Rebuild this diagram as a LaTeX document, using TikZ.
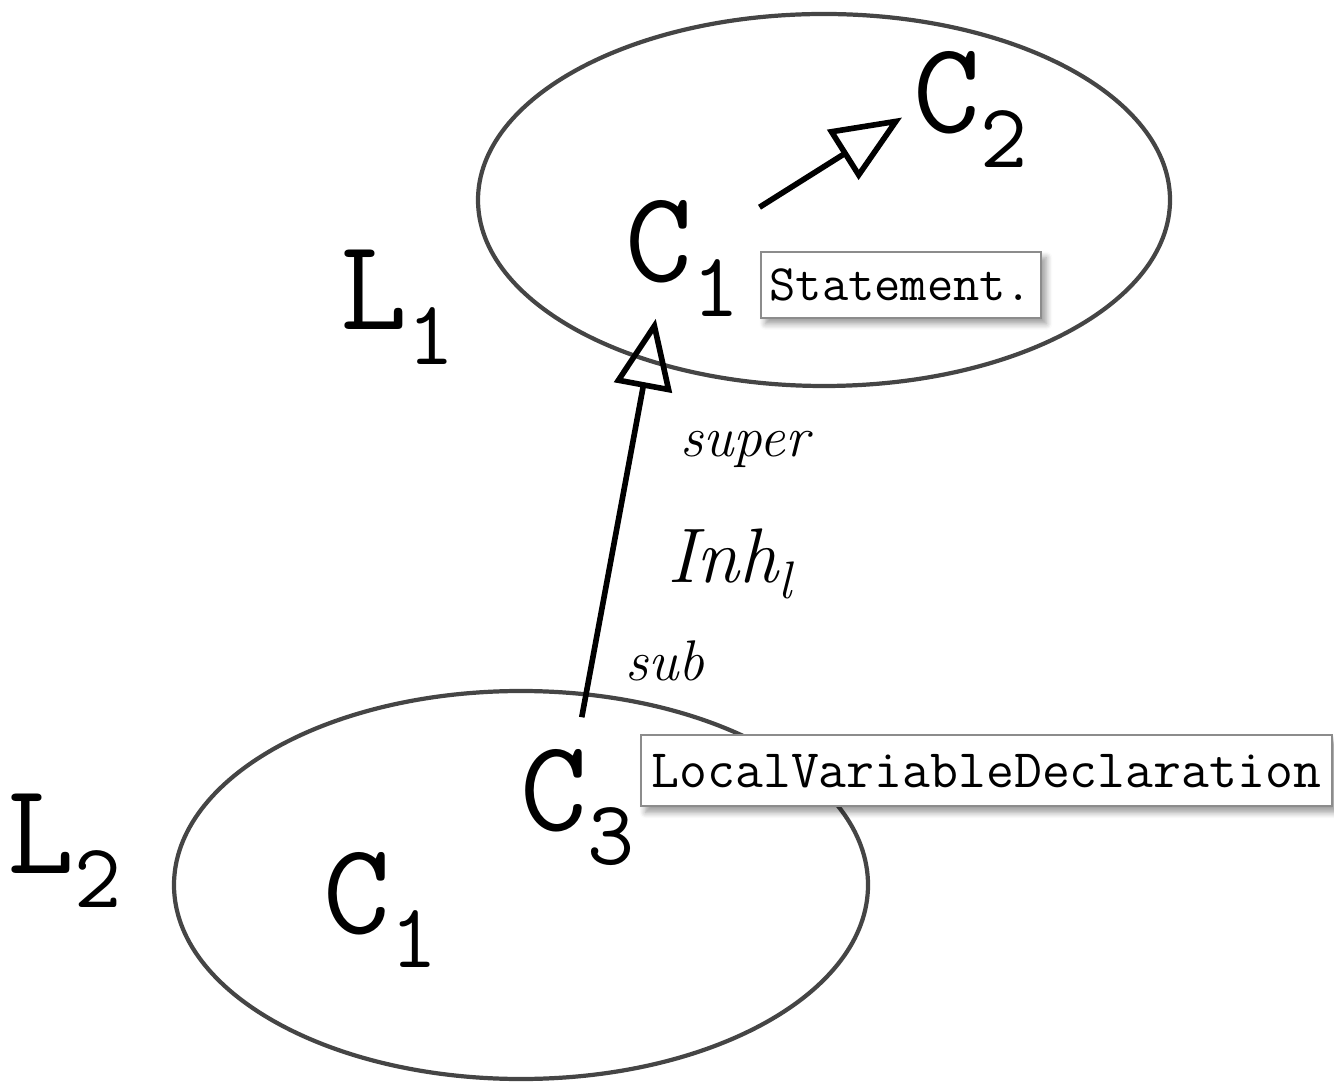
\documentclass[tikz,border=0pt]{standalone}
\usepackage{fontspec}
\usepackage{tikz}
\usetikzlibrary{positioning,arrows.meta,shadows.blur}
\definecolor{SetGray}{HTML}{454545}
\definecolor{TipGray}{HTML}{8C8C8C}
\newcommand{\cname}[2]{\fontsize{37}{40}\selectfont\ttfamily #1\raisebox{-9.7pt}{\fontsize{26}{28}\selectfont #2}}

\begin{document}
\begin{tikzpicture}[x=0.01cm,y=-0.01cm,
    elem/.style={inner sep=0pt,anchor=base west},
    tipbox/.style={draw=TipGray,line width=0.6pt,fill=white,inner xsep=0.09cm,
      minimum height=0.66cm,font=\fontsize{14.5}{16}\selectfont\ttfamily,
      blur shadow={shadow xshift=0.05cm,shadow yshift=-0.06cm,shadow blur steps=6}},
    inharrow/.style={line width=1.6pt,-{Triangle[open,length=0.7cm,width=0.58cm]}},
    role/.style={inner sep=0pt,anchor=base west,font=\fontsize{16.3}{18}\selectfont\itshape}]
    \useasboundingbox (0,0) rectangle (1334,1083);
    \draw[SetGray,line width=1.2pt] (824,200) ellipse [x radius=346,y radius=186];
    \draw[SetGray,line width=1.2pt] (521,885) ellipse [x radius=347,y radius=194];
    \node[elem] (l1) at (340,330) {\cname{L}{1}};
    \node[elem] (l2) at (7,873) {\cname{L}{2}};
    \node[elem] (c1top) at (625,282) {\cname{C}{1}};
    \node[elem] (c2) at (913,133) {\cname{C}{2}};
    \node[elem] (c3) at (520,830) {\cname{C}{3}};
    \node[elem] (c1bot) at (323,933) {\cname{C}{1}};
    \node[tipbox,anchor=south west] (stmt) at ([shift={(19,2)}]c1top.south east) {Statement.};
    \node[tipbox,anchor=north west,inner xsep=0.11cm,minimum height=0.71cm,
      font=\fontsize{15.4}{17}\selectfont\ttfamily] (lvd) at ([shift={(4,-14)}]c3.north east) {LocalVariableDeclaration};
    \draw[inharrow] ([shift={(19,7)}]c1top.north east) -- ([shift={(-11,8)}]c2.west);
    \draw[inharrow] ([shift={(4,-31)}]c3.north) -- ([shift={(-27,2)}]c1top.south);
    \node[role] (super) at (680,457) {super};
    \node[role,font=\fontsize{22}{24}\selectfont\itshape] (inhlabel) at (667,583) {Inh\raisebox{-0.2em}{\fontsize{15}{16}\selectfont l}};
    \node[role] (sub) at (625,680) {sub};
\end{tikzpicture}
\end{document}
